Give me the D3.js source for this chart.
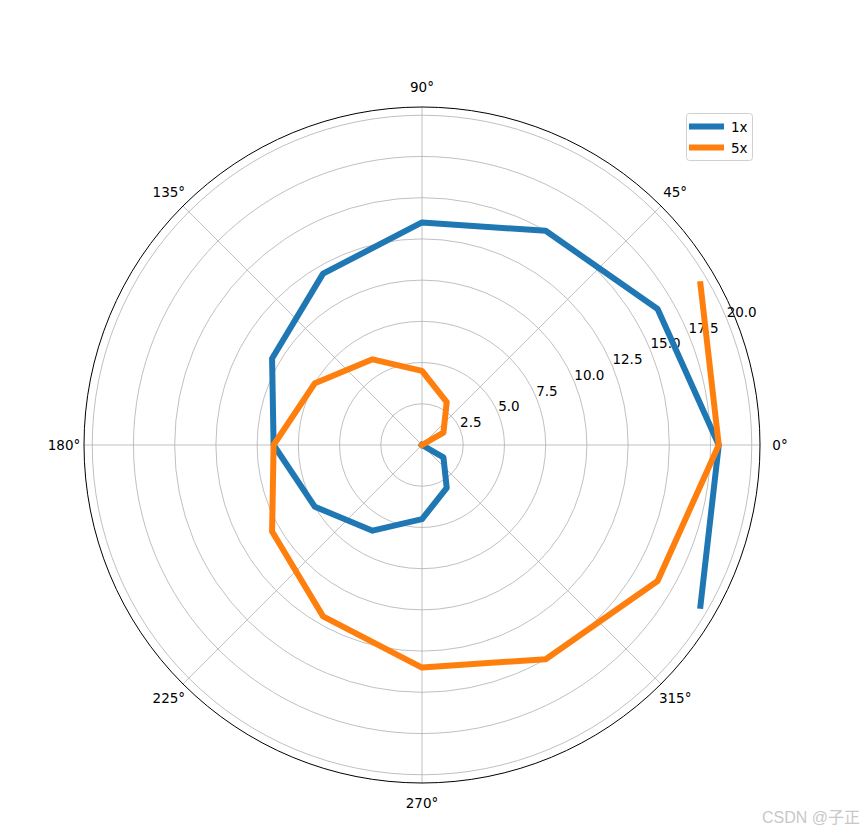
<!DOCTYPE html>
<html>
<head>
<meta charset="utf-8">
<script src="https://cdn.jsdelivr.net/npm/d3@7"></script>
<style>
  body { margin: 0; background: #fff; }
  svg { display: block; }
  text { font-family: "DejaVu Sans", sans-serif; }
</style>
</head>
<body>
<svg id="chart" width="865" height="832"></svg>
<script>
// ---- data ----
const radii = [0, 1.5, 3, 4.5, 6, 7.5, 9, 10.5, 12, 13.5, 15, 16.5, 18, 19.5];
const theta1x = [0, -30, -60, -90, -120, -150, -180, -210, -240, -270, -300, -330, -360, -390];
const theta5x = [0, 30, 60, 90, 120, 150, 180, 210, 240, 270, 300, 330, 360, 390];
const seriesNames = ["1x", "5x"];
const seriesColors = ["#1f77b4", "#ff7f0e"];
const rTicks = [2.5, 5.0, 7.5, 10.0, 12.5, 15.0, 17.5, 20.0];
const angleTicks = [0, 45, 90, 135, 180, 225, 270, 315];
const rMax = 20.5;

const svg = d3.select("#chart");
const cx = 422, cy = 445, R = 338;
const r = d3.scaleLinear().domain([0, rMax]).range([0, R]);
const toRad = d => d * Math.PI / 180;

const g = svg.append("g").attr("transform", `translate(${cx},${cy})`);

// radial grid circles
g.selectAll("circle.grid").data(rTicks).join("circle")
  .attr("r", d => r(d)).attr("fill", "none")
  .attr("stroke", "#b0b0b0").attr("stroke-width", 0.8);

// angular grid lines
g.selectAll("line.agrid").data(angleTicks).join("line")
  .attr("x1", 0).attr("y1", 0)
  .attr("x2", d => R * Math.cos(toRad(d)))
  .attr("y2", d => -R * Math.sin(toRad(d)))
  .attr("stroke", "#b0b0b0").attr("stroke-width", 0.8);

// outer spine
g.append("circle").attr("r", R).attr("fill", "none").attr("stroke", "#000").attr("stroke-width", 1);

// angle labels
g.selectAll("text.alabel").data(angleTicks).join("text")
  .attr("x", d => (R + 20) * Math.cos(toRad(d)))
  .attr("y", d => -(R + 20) * Math.sin(toRad(d)))
  .attr("text-anchor", "middle").attr("dominant-baseline", "central")
  .attr("font-size", "13.5px").attr("fill", "#000")
  .text(d => d + "°");

// radial labels at 22.5°
const rlAng = toRad(22.5);
g.selectAll("text.rlabel").data(rTicks).join("text")
  .attr("x", d => r(d) * Math.cos(rlAng))
  .attr("y", d => -r(d) * Math.sin(rlAng) - 2)
  .attr("text-anchor", "start")
  .attr("font-size", "13.5px").attr("fill", "#000")
  .text(d => d.toFixed(1));

// lines
const series = [theta1x, theta5x];
const line = d3.lineRadial()
  .angle(d => Math.PI / 2 - toRad(d[1]))
  .radius(d => r(d[0]));
series.forEach((th, i) => {
  const pts = radii.map((v, j) => [v, th[j]]);
  g.append("path").attr("d", line(pts))
    .attr("fill", "none").attr("stroke", seriesColors[i])
    .attr("stroke-width", 6).attr("stroke-linejoin", "round")
    .attr("stroke-linecap", "square");
});

// legend
const lg = svg.append("g").attr("transform", "translate(686,113)");
lg.append("rect").attr("x", 0.5).attr("y", 0.5).attr("width", 66).attr("height", 47)
  .attr("rx", 3).attr("fill", "rgba(255,255,255,0.8)").attr("stroke", "#d0d0d0").attr("stroke-width", 1);
seriesNames.forEach((n, i) => {
  const y = 13.5 + i * 21;
  lg.append("line").attr("x1", 3).attr("x2", 38).attr("y1", y).attr("y2", y)
    .attr("stroke", seriesColors[i]).attr("stroke-width", 6);
  lg.append("text").attr("x", 45).attr("y", y).attr("dominant-baseline", "central")
    .attr("font-size", "13.5px").attr("fill", "#000").text(n);
});

// watermark
svg.append("text").attr("x", 860).attr("y", 823).attr("text-anchor", "end")
  .attr("font-size", "16px").attr("fill", "#c8c8c8")
  .style("font-family", "'Liberation Sans', 'Noto Sans CJK SC', sans-serif")
  .text("CSDN @子正");
</script>
</body>
</html>
